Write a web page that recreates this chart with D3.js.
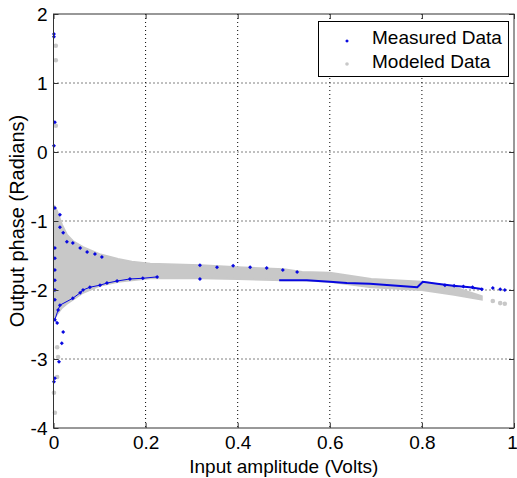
<!DOCTYPE html>
<html>
<head>
<meta charset="utf-8">
<script src="https://cdn.jsdelivr.net/npm/d3@7"></script>
<style>
  body { margin: 0; background: #fff; }
  svg text { font-family: "Liberation Sans", Arial, sans-serif; fill: #000; }
</style>
</head>
<body>
<div id="chart"></div>
<script>
// ticks
const xTicks = [0, 0.2, 0.4, 0.6, 0.8, 1];
const yTicks = [-4, -3, -2, -1, 0, 1, 2];

// modeled data: dense band (upper / lower edges)
const bandX     = [0.001, 0.008, 0.018, 0.029, 0.042, 0.064, 0.10, 0.14, 0.17, 0.21, 0.32, 0.40, 0.50, 0.54, 0.60, 0.69, 0.80, 0.87, 0.93];
const bandUpper = [-0.77, -0.86, -1.05, -1.20, -1.29, -1.38, -1.48, -1.55, -1.59, -1.62, -1.64, -1.67, -1.70, -1.74, -1.75, -1.84, -1.88, -1.96, -2.09];
const bandLower = [-2.41, -2.35, -2.26, -2.20, -2.14, -2.04, -1.94, -1.88, -1.86, -1.83, -1.83, -1.84, -1.86, -1.86, -1.88, -1.96, -2.00, -2.07, -2.14];
// modeled data: isolated points
const modeledX = [0.005, 0.005, 0.005, 0.008, 0.010, 0.008, 0.001, 0.003, 0.954, 0.97, 0.98];
const modeledY = [1.54, 1.33, 0.38, -2.83, -2.97, -3.26, -3.49, -3.78, -2.16, -2.19, -2.20];

// measured data: visible points
const measuredX = [0.001, 0.001, 0.003, 0.001,
  0.003, 0.003, 0.003, 0.003, 0.003, 0.003,
  0.003, 0.014, 0.014, 0.021, 0.029, 0.042, 0.058, 0.073, 0.090, 0.105,
  0.021, 0.018, 0.012, 0.003, 0.001,
  0.318, 0.355, 0.39, 0.427, 0.463, 0.498, 0.529, 0.318,
  0.85, 0.87, 0.89, 0.91, 0.93, 0.954, 0.97, 0.98];
const measuredY = [1.71, 1.67, 0.43, 0.09,
  -1.39, -1.54, -1.71, -1.86, -2.00, -2.14,
  -0.81, -0.91, -1.09, -1.17, -1.30, -1.32, -1.39, -1.45, -1.48, -1.52,
  -2.61, -2.77, -3.04, -3.28, -3.33,
  -1.64, -1.67, -1.65, -1.67, -1.68, -1.71, -1.74, -1.84,
  -1.93, -1.94, -1.95, -1.96, -1.99, -1.97, -1.99, -2.00];
// measured data: lower edge near zero amplitude
const lowerEdgeX = [0.225, 0.194, 0.166, 0.138, 0.116, 0.101, 0.079, 0.064, 0.058, 0.042, 0.014, 0.010, 0.003, 0.008];
const lowerEdgeY = [-1.81, -1.83, -1.84, -1.87, -1.90, -1.93, -1.96, -2.00, -2.04, -2.12, -2.22, -2.29, -2.43, -2.48];
// measured data: dense trail along the lower edge at high amplitude
const trailX = [0.49, 0.55, 0.60, 0.637, 0.687, 0.746, 0.79, 0.802, 0.833, 0.868, 0.904, 0.933];
const trailY = [-1.86, -1.86, -1.88, -1.90, -1.91, -1.94, -1.96, -1.88, -1.91, -1.94, -1.96, -1.99];

const legendLabels = ["Measured Data", "Modeled Data"];

const W = 517, H = 478;
const margin = { top: 14, right: 3, bottom: 50, left: 53.5 };
const width = W - margin.left - margin.right,
      height = H - margin.top - margin.bottom;

const blue = "#0808e0", gray = "#c8c8c8";

const svg = d3.select("#chart").append("svg")
  .attr("width", W).attr("height", H);
const g = svg.append("g")
  .attr("transform", "translate(" + margin.left + "," + margin.top + ")");

const x = d3.scaleLinear().domain([0, 1]).range([0, width]);
const y = d3.scaleLinear().domain([-4, 2]).range([height, 0]);

// grid
g.append("g").selectAll("line").data(xTicks.slice(1, -1)).enter().append("line")
  .attr("x1", d => x(d)).attr("x2", d => x(d)).attr("y1", 0).attr("y2", height)
  .attr("stroke", "#000").attr("stroke-dasharray", "1,3");
g.append("g").selectAll("line").data(yTicks.slice(1, -1)).enter().append("line")
  .attr("y1", d => y(d)).attr("y2", d => y(d)).attr("x1", 0).attr("x2", width)
  .attr("stroke", "#000").attr("stroke-dasharray", "1,3");

// modeled band
const band = bandX.map((d, i) => ({ x: d, hi: bandUpper[i], lo: bandLower[i] }));
g.append("path").datum(band)
  .attr("d", d3.area().x(d => x(d.x)).y0(d => y(d.lo)).y1(d => y(d.hi)))
  .attr("fill", gray).attr("stroke", gray).attr("stroke-width", 2);
g.append("g").selectAll("circle").data(modeledX.map((d, i) => [d, modeledY[i]])).enter()
  .append("circle")
  .attr("cx", d => x(d[0])).attr("cy", d => y(d[1])).attr("r", 2.3)
  .attr("fill", gray);

// measured
const line = d3.line().x(d => x(d[0])).y(d => y(d[1]));
const zip = (a, b) => a.map((d, i) => [d, b[i]]);
g.append("path").datum(zip(trailX, trailY))
  .attr("d", line).attr("fill", "none").attr("stroke", blue).attr("stroke-width", 2);
g.append("path").datum(zip(lowerEdgeX, lowerEdgeY))
  .attr("d", line).attr("fill", "none").attr("stroke", blue).attr("stroke-width", 1);
const dot = d3.symbol().type(d3.symbolSquare).size(8);
const allX = measuredX.concat(lowerEdgeX),
      allY = measuredY.concat(lowerEdgeY);
g.append("g").selectAll("path").data(zip(allX, allY)).enter()
  .append("path")
  .attr("d", dot)
  .attr("transform", d => "translate(" + x(d[0]) + "," + y(d[1]) + ") rotate(45)")
  .attr("fill", blue);

// axes (ticks inside, MATLAB style)
const fontSize = "19px";
const ax = g.append("g").attr("transform", "translate(0," + height + ")")
  .call(d3.axisBottom(x).tickValues(xTicks).tickSize(-5).tickPadding(8).tickFormat(d => String(d)));
ax.selectAll("text").filter(d => d === 1).attr("dx", "-2");
const ay = g.append("g")
  .call(d3.axisLeft(y).tickValues(yTicks).tickSize(-5).tickPadding(6).tickFormat(d => String(d)));
const at = g.append("g")
  .call(d3.axisTop(x).tickValues(xTicks).tickSize(-5).tickFormat(""));
const ar = g.append("g").attr("transform", "translate(" + width + ",0)")
  .call(d3.axisRight(y).tickValues(yTicks).tickSize(-5).tickFormat(""));
[ax, ay, at, ar].forEach(a => {
  a.select(".domain").remove();
  a.selectAll("line").attr("stroke", "#333");
  a.selectAll("text").style("font-size", fontSize).attr("fill", "#000");
});
g.append("rect").attr("width", width).attr("height", height)
  .attr("fill", "none").attr("stroke", "#333");

// axis labels
svg.append("text")
  .attr("x", margin.left + width / 2).attr("y", 473)
  .attr("text-anchor", "middle").style("font-size", fontSize)
  .text("Input amplitude (Volts)");
svg.append("text")
  .attr("transform", "translate(24," + (margin.top + height / 2) + ") rotate(-90)")
  .attr("text-anchor", "middle").style("font-size", "20px")
  .text("Output phase (Radians)");

// legend
const lg = svg.append("g");
lg.append("rect").attr("x", 318.5).attr("y", 21.5).attr("width", 190).attr("height", 55)
  .attr("fill", "#fff").attr("stroke", "#000");
legendLabels.forEach((lab, i) => {
  const yy = 37 + i * 24;
  if (i === 0) {
    lg.append("path").attr("d", d3.symbol().type(d3.symbolSquare).size(7))
      .attr("transform", "translate(347," + (yy + 4) + ") rotate(45)").attr("fill", blue);
  } else {
    lg.append("circle").attr("cx", 347).attr("cy", yy + 3).attr("r", 1.8).attr("fill", gray);
  }
  lg.append("text").attr("x", 372).attr("y", yy).attr("dy", "0.35em")
    .style("font-size", fontSize).text(lab);
});
</script>
</body>
</html>
